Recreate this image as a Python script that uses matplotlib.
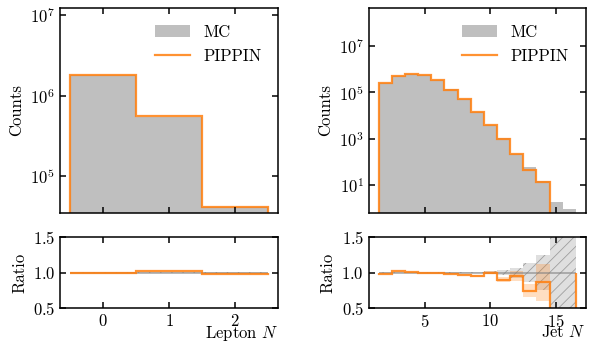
import numpy as np
import matplotlib
matplotlib.use("Agg")
import matplotlib.pyplot as plt

plt.rcParams['font.family'] = 'serif'
plt.rcParams['font.serif'] = ['cmr10']
plt.rcParams['mathtext.fontset'] = 'cm'
plt.rcParams['axes.formatter.use_mathtext'] = True
plt.rcParams['font.size'] = 12
plt.rcParams['hatch.linewidth'] = 0.6

# Lepton multiplicity
lep_n = [0, 1, 2]
lep_mc = [1.80e6, 5.37e5, 4.16e4]
lep_pip = [1.80e6, 5.50e5, 4.10e4]
lep_mc_err = [0.001, 0.002, 0.005]     # relative
lep_pip_err = [0.001, 0.002, 0.005]

# Jet multiplicity
jet_n = [2, 3, 4, 5, 6, 7, 8, 9, 10, 11, 12, 13, 14, 15, 16]
jet_mc = [2.54e5, 4.80e5, 5.84e5, 5.30e5, 3.32e5, 1.32e5, 5.05e4, 1.47e4,
          3.80e3, 1.02e3, 2.20e2, 59, 15, 1.9, 0.9]
jet_pip = [2.50e5, 4.90e5, 5.90e5, 5.30e5, 3.30e5, 1.30e5, 4.90e4, 1.40e4,
           3.80e3, 9.20e2, 2.10e2, 44, 13, 0, 0]
jet_mc_err = [0.002, 0.0015, 0.0013, 0.0014, 0.0017, 0.003, 0.0045, 0.008,
              0.016, 0.03, 0.07, 0.13, 0.25, 0.7, 1.0]
jet_pip_err = [0.002, 0.0015, 0.0013, 0.0014, 0.0017, 0.003, 0.0045, 0.008,
               0.016, 0.035, 0.07, 0.09, 0.26, 0, 0]

ORANGE = '#ff7f0e'


def style(ax):
    ax.tick_params(direction='in', top=True, right=True, length=4, width=1.1,
                   which='major', labelsize=12)
    ax.tick_params(which='minor', left=False, right=False, bottom=False, top=False)
    for s in ax.spines.values():
        s.set_linewidth(1.1)


def panel(fig, x0, width, n, mc, pip, mc_err, pip_err, ylim, xticks, xlabel):
    n = np.array(n, dtype=float)
    mc = np.array(mc, dtype=float)
    pip = np.array(pip, dtype=float)
    edges = np.append(n - 0.5, n[-1] + 0.5)

    ax = fig.add_axes([x0, 0.383, width, 0.594])
    rx = fig.add_axes([x0, 0.107, width, 0.206], sharex=ax)

    ax.stairs(mc, edges, fill=True, color='gray', alpha=0.5, lw=0, label='MC')
    ax.stairs(pip, edges, baseline=1e-6, color=ORANGE, alpha=0.85, lw=1.6,
              label='PIPPIN')
    ax.set_yscale('log')
    ax.set_ylim(*ylim)
    ax.set_ylabel('Counts')
    ax.legend(loc='upper right', frameon=False, fontsize=12, handlelength=2.1,
              borderaxespad=0.6)
    ax.tick_params(labelbottom=False)
    style(ax)

    ratio = pip / mc
    mc_err = np.array(mc_err)
    pip_err = np.array(pip_err)
    rx.bar(n, 2 * mc_err, bottom=1 - mc_err, width=1.0, color=(0.5, 0.5, 0.5, 0.25),
           edgecolor=(0.45, 0.45, 0.45, 0.6), hatch='///', lw=0)
    rx.bar(n, 2 * pip_err, bottom=ratio - pip_err, width=1.0, color=ORANGE,
           alpha=0.25, lw=0)
    rx.stairs(np.ones_like(mc), edges, baseline=None, color='gray', alpha=0.6, lw=1.3)
    rx.stairs(ratio, edges, baseline=1, color=ORANGE, alpha=0.85, lw=1.6)
    rx.set_ylim(0.5, 1.5)
    rx.set_yticks([0.5, 1.0, 1.5])
    rx.set_ylabel('Ratio')
    rx.set_xticks(xticks)
    rx.set_xlim(edges[0] - 0.05 * (edges[-1] - edges[0]),
                edges[-1] + 0.05 * (edges[-1] - edges[0]))
    rx.set_xlabel(xlabel, ha='right')
    rx.xaxis.set_label_coords(1.0, -0.22)
    style(rx)
    return ax, rx


fig = plt.figure(figsize=(5.94, 3.45), dpi=100)

panel(fig, 0.101, 0.367, lep_n, lep_mc, lep_pip, lep_mc_err, lep_pip_err,
      (3.47e4, 1.23e7), [0, 1, 2], r'Lepton $N$')
panel(fig, 0.621, 0.365, jet_n, jet_mc, jet_pip, jet_mc_err, jet_pip_err,
      (0.63, 4.3e8), [5, 10, 15], r'Jet $N$')

fig.savefig('out.png', dpi=100)
